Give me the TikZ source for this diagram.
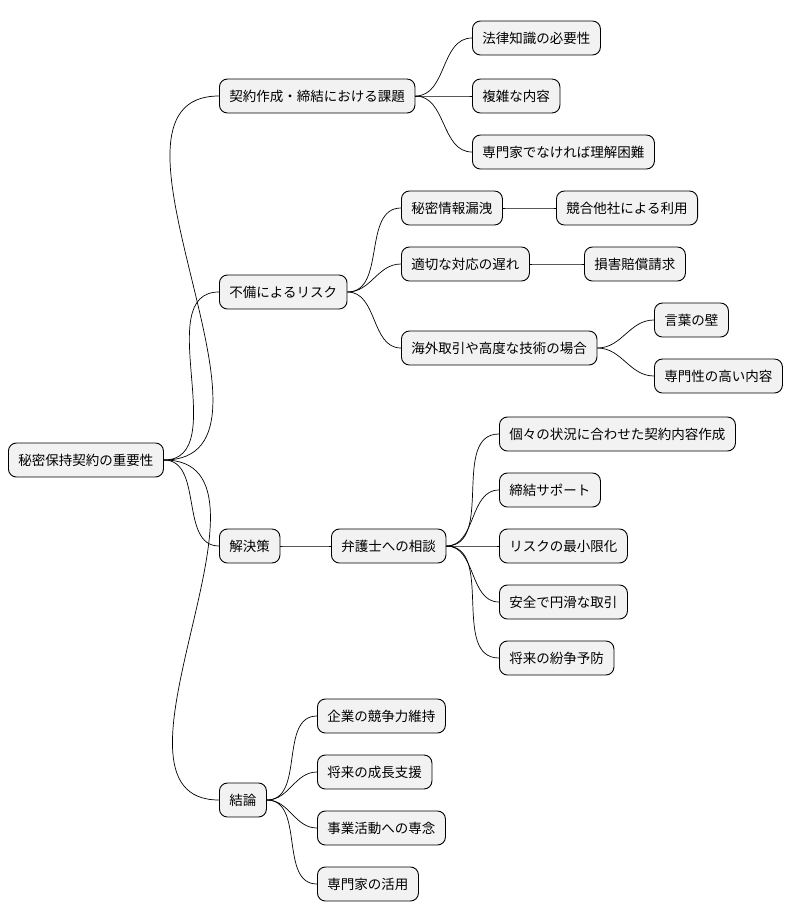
\documentclass[tikz,border=0pt]{standalone}
\usepackage{fontspec}
\newfontfamily\cjk{Noto Sans CJK JP}
\usetikzlibrary{positioning}
\tikzset{topic/.style={draw=black,fill=gray!10,rounded corners=8pt,line width=0.9pt,minimum height=34pt,inner xsep=10pt,anchor=west,font=\cjk\fontsize{13.5pt}{15pt}\selectfont},
  link/.style={draw=black,line width=0.7pt}}
\begin{document}
\begin{tikzpicture}[x=1pt,y=-1pt]
  \useasboundingbox (0,0) rectangle (796,921);
\node[topic] (root) at (8,460) {秘密保持契約の重要性};
\node[topic] (task) at (219,96) {契約作成・締結における課題};
\node[topic] (risk) at (219,292) {不備によるリスク};
\node[topic] (sol) at (219,546) {解決策};
\node[topic] (conc) at (219,800) {結論};
\node[topic] (t1) at (472,38) {法律知識の必要性};
\node[topic] (t2) at (472,96) {複雑な内容};
\node[topic] (t3) at (472,152) {専門家でなければ理解困難};
\node[topic] (r1) at (401,208) {秘密情報漏洩};
\node[topic] (r1a) at (556,208) {競合他社による利用};
\node[topic] (r2) at (401,264) {適切な対応の遅れ};
\node[topic] (r2a) at (584,264) {損害賠償請求};
\node[topic] (r3) at (401,348) {海外取引や高度な技術の場合};
\node[topic] (r3a) at (654,320) {言葉の壁};
\node[topic] (r3b) at (654,376) {専門性の高い内容};
\node[topic] (law) at (331,546) {弁護士への相談};
\node[topic] (l1) at (499,434) {個々の状況に合わせた契約内容作成};
\node[topic] (l2) at (499,490) {締結サポート};
\node[topic] (l3) at (499,546) {リスクの最小限化};
\node[topic] (l4) at (499,602) {安全で円滑な取引};
\node[topic] (l5) at (499,658) {将来の紛争予防};
\node[topic] (c1) at (317,716) {企業の競争力維持};
\node[topic] (c2) at (317,772) {将来の成長支援};
\node[topic] (c3) at (317,828) {事業活動への専念};
\node[topic] (c4) at (317,884) {専門家の活用};
% connectors
\foreach \a/\b in {root/task,root/risk,root/sol,root/conc,task/t1,task/t2,task/t3,
  risk/r1,risk/r2,risk/r3,r1/r1a,r2/r2a,r3/r3a,r3/r3b,sol/law,
  law/l1,law/l2,law/l3,law/l4,law/l5,conc/c1,conc/c2,conc/c3,conc/c4}
  \draw[link] (\a.east) to[out=0,in=180] (\b.west);
\end{tikzpicture}
\end{document}
